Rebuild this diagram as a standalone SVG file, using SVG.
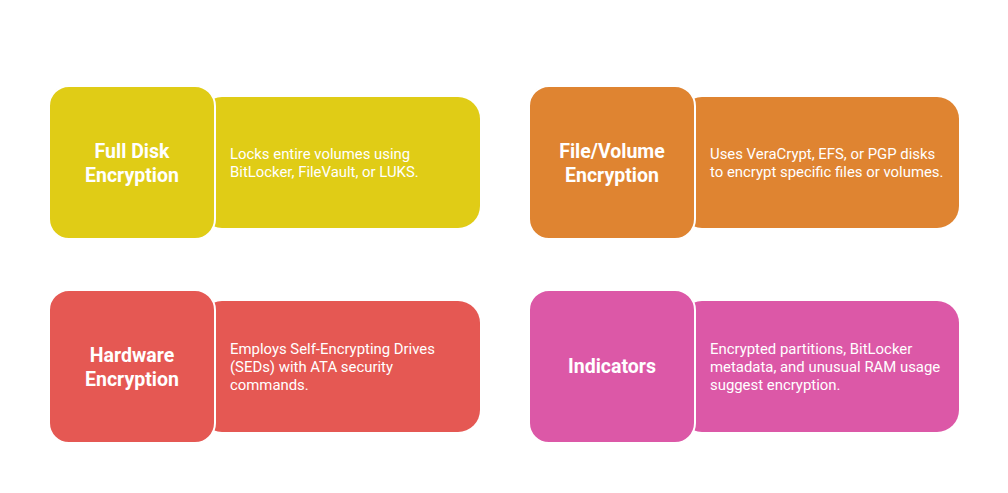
<svg xmlns="http://www.w3.org/2000/svg" width="1008" height="493" viewBox="0 0 1008 493">
<style>
.t{font-family:Roboto,"Liberation Sans",sans-serif;font-weight:700;font-size:19.5px;fill:#fff;text-anchor:middle}
.d{font-family:Roboto,"Liberation Sans",sans-serif;font-size:14.9px;fill:#fff}
.k{stroke:#fff;stroke-width:2}
</style>
<rect width="1008" height="493" fill="#fff"/>
<g id="full-disk">
<rect x="200" y="97" width="280" height="131" rx="22" fill="#E0CC16"/>
<rect class="k" x="49" y="86" width="166" height="153" rx="20" fill="#E0CC16"/>
<text class="t" x="132" y="158">Full Disk</text>
<text class="t" x="132" y="182">Encryption</text>
<text class="d" x="230" y="159">Locks entire volumes using</text>
<text class="d" x="230" y="177">BitLocker, FileVault, or LUKS.</text>
</g>
<g id="file-volume">
<rect x="680" y="97" width="279" height="131" rx="22" fill="#DF8431"/>
<rect class="k" x="529" y="86" width="166" height="153" rx="20" fill="#DF8431"/>
<text class="t" x="612" y="158">File/Volume</text>
<text class="t" x="612" y="182">Encryption</text>
<text class="d" x="710" y="159">Uses VeraCrypt, EFS, or PGP disks</text>
<text class="d" x="710" y="177">to encrypt specific files or volumes.</text>
</g>
<g id="hardware">
<rect x="200" y="301" width="280" height="131" rx="22" fill="#E55853"/>
<rect class="k" x="49" y="290" width="166" height="153" rx="20" fill="#E55853"/>
<text class="t" x="132" y="362">Hardware</text>
<text class="t" x="132" y="386">Encryption</text>
<text class="d" x="230" y="354">Employs Self-Encrypting Drives</text>
<text class="d" x="230" y="372">(SEDs) with ATA security</text>
<text class="d" x="230" y="390">commands.</text>
</g>
<g id="indicators">
<rect x="680" y="301" width="279" height="131" rx="22" fill="#DC58A7"/>
<rect class="k" x="529" y="290" width="166" height="153" rx="20" fill="#DC58A7"/>
<text class="t" x="612" y="373">Indicators</text>
<text class="d" x="710" y="354">Encrypted partitions, BitLocker</text>
<text class="d" x="710" y="372">metadata, and unusual RAM usage</text>
<text class="d" x="710" y="390">suggest encryption.</text>
</g>
<g id="connectors"/>
</svg>
